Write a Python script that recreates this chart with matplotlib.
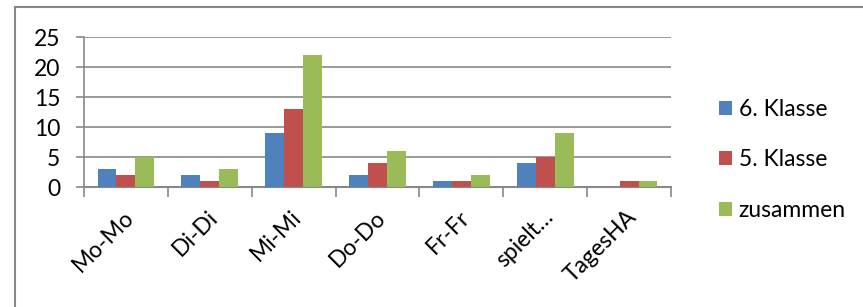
import numpy as np
import matplotlib
matplotlib.use("Agg")
import matplotlib.pyplot as plt
import matplotlib.transforms as mtransforms
from matplotlib.lines import Line2D

categories = ["Mo-Mo", "Di-Di", "Mi-Mi", "Do-Do", "Fr-Fr", "spielt…", "TagesHA"]
klasse6 = [3, 2, 9, 2, 1, 4, 0]
klasse5 = [2, 1, 13, 4, 1, 5, 1]
zusammen = [5, 3, 22, 6, 2, 9, 1]
series_names = ["6. Klasse", "5. Klasse", "zusammen"]
colors = ["#4F81BD", "#C0504D", "#9BBB59"]
yticks = [0, 5, 10, 15, 20, 25]


def main():
    plt.rcParams['font.family'] = ['Lato', 'DejaVu Sans']
    fs = 16.5
    W, H = 863, 307
    fig = plt.figure(figsize=(W / 100, H / 100), dpi=100)
    ax = fig.add_axes([84 / W, 1 - 187 / H, (671 - 84) / W, 150 / H])

    x = np.arange(len(categories))
    bw = 0.226
    for i, vals in enumerate([klasse6, klasse5, zusammen]):
        ax.bar(x + (i - 1) * bw, vals, bw, color=colors[i],
               label=series_names[i], zorder=3)

    ax.set_xlim(-0.5, len(categories) - 0.5)
    ax.set_ylim(0, 25)
    ax.set_yticks(yticks)
    ax.set_yticklabels([str(v) for v in yticks], fontsize=fs)
    ax.yaxis.grid(True, color="#888888", linewidth=1.2, zorder=0)
    ax.tick_params(axis="y", length=6, width=1.2, color="#888888", pad=11)

    ax.set_xticks(x)
    ax.set_xticklabels(categories, fontsize=fs, rotation=45,
                       ha="right", va="top")
    ax.set_xticks(np.arange(len(categories) + 1) - 0.5, minor=True)
    ax.tick_params(axis="x", which="major", length=0, pad=14)
    ax.tick_params(axis="x", which="minor", length=7, width=1.2,
                   color="#888888")
    shift = mtransforms.ScaledTranslation(0.12, 0, fig.dpi_scale_trans)
    for lbl in ax.get_xticklabels():
        lbl.set_transform(lbl.get_transform() + shift)

    for s in ["top", "right"]:
        ax.spines[s].set_visible(False)
    ax.spines["left"].set_color("#888888")
    ax.spines["left"].set_linewidth(1.2)
    ax.spines["bottom"].set_color("#888888")
    ax.spines["bottom"].set_linewidth(1.5)

    fig.legend(loc="center left", bbox_to_anchor=(710 / W, 1 - 160 / H),
               frameon=False, fontsize=fs, handlelength=0.55,
               handleheight=0.55, handletextpad=0.3, labelspacing=1.3,
               borderaxespad=0)

    # outer chart frame
    fig.add_artist(Line2D([15 / W, 1], [1 - 7 / H, 1 - 7 / H],
                          color="#888888", linewidth=1.5))
    fig.add_artist(Line2D([15 / W, 15 / W], [0, 1 - 7 / H],
                          color="#888888", linewidth=1.5))

    fig.savefig("out.png", dpi=100)
    plt.close()


if __name__ == "__main__":
    main()
